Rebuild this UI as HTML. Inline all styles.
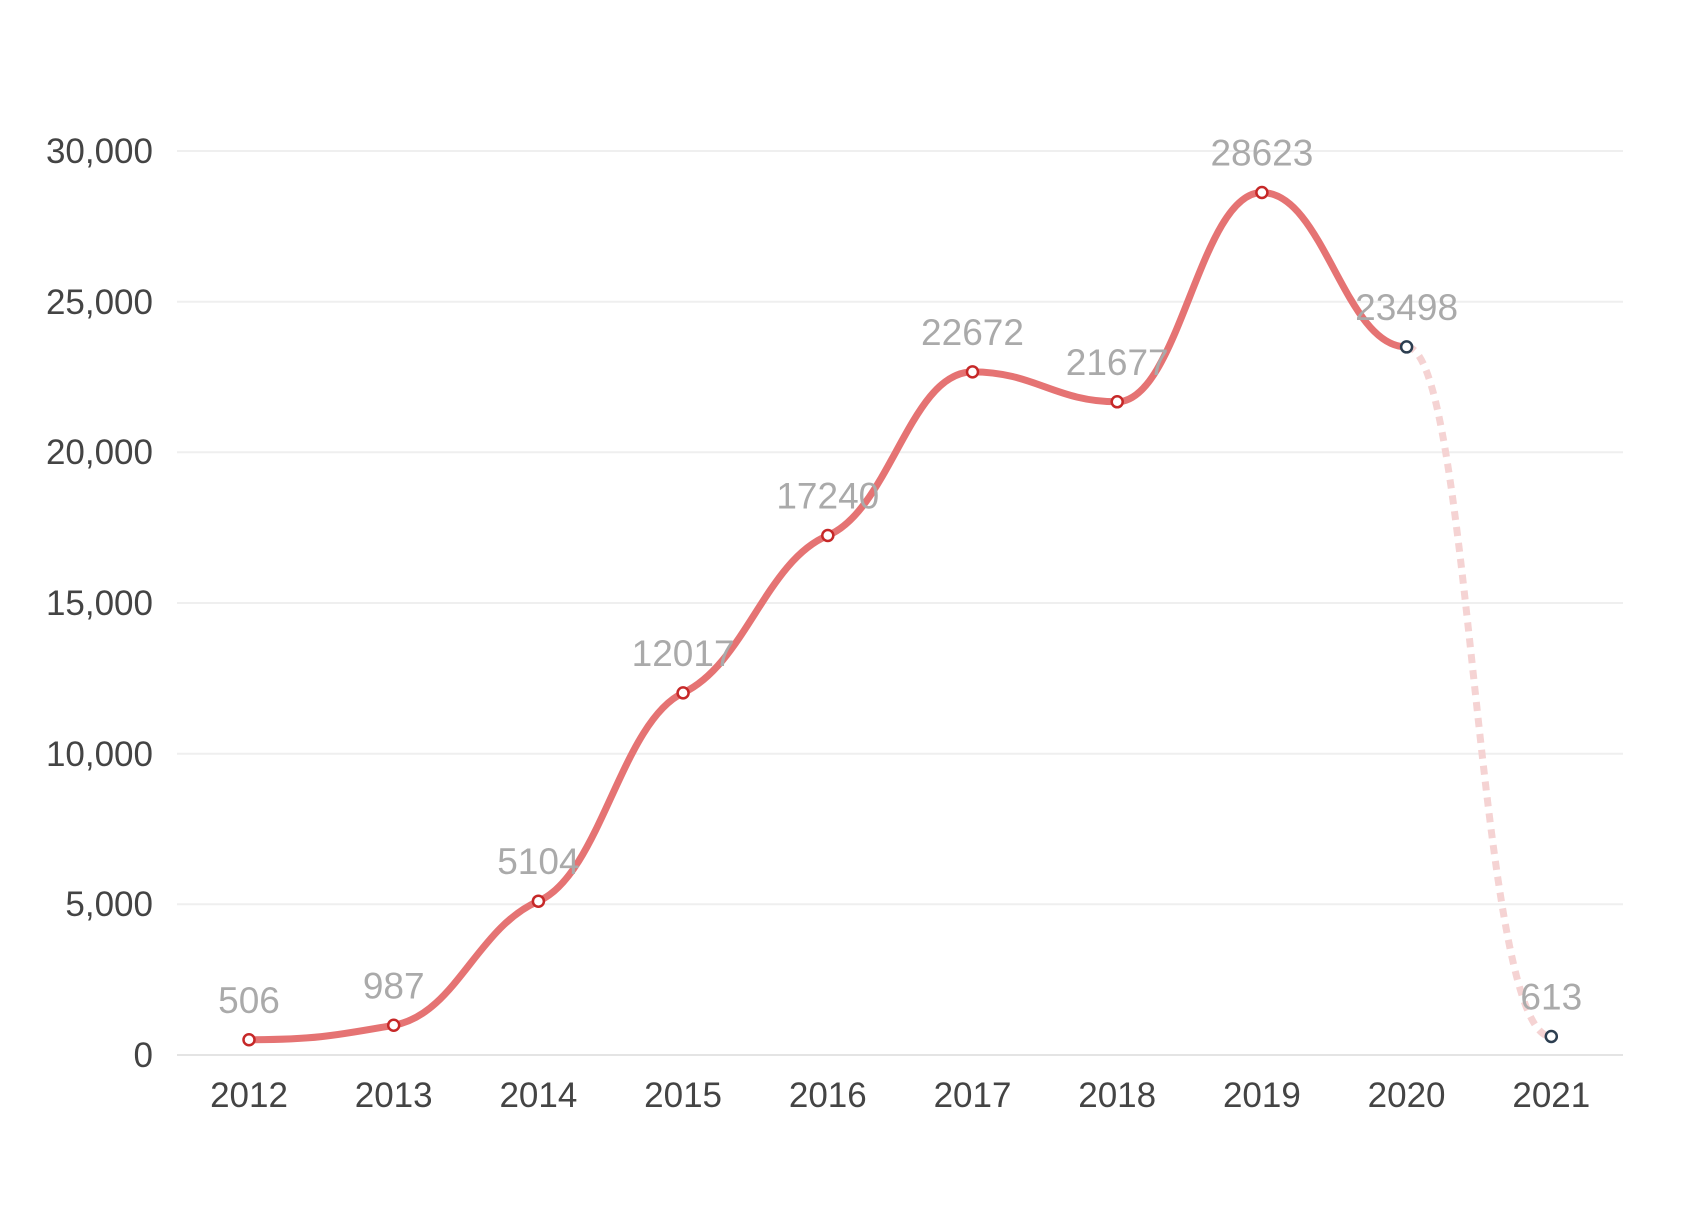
<!DOCTYPE html>
<html><head><meta charset="utf-8"><style>
html,body{margin:0;padding:0;background:#fff;}
svg{display:block;}
text{font-family:"Liberation Sans",sans-serif;}
</style></head><body>
<svg id="s" width="1694" height="1227" xmlns="http://www.w3.org/2000/svg">
<g stroke="#efefef" stroke-width="2">
<line x1="177" x2="1623" y1="151" y2="151"/>
<line x1="177" x2="1623" y1="301.7" y2="301.7"/>
<line x1="177" x2="1623" y1="452.3" y2="452.3"/>
<line x1="177" x2="1623" y1="603" y2="603"/>
<line x1="177" x2="1623" y1="753.7" y2="753.7"/>
<line x1="177" x2="1623" y1="904.3" y2="904.3"/>
<line x1="177" x2="1623" y1="1055" y2="1055" stroke="#e4e4e4"/>
</g>
<g fill="#444" font-size="35" text-anchor="end">
<text x="153" y="163">30,000</text>
<text x="153" y="314">25,000</text>
<text x="153" y="464">20,000</text>
<text x="153" y="615">15,000</text>
<text x="153" y="766">10,000</text>
<text x="153" y="916">5,000</text>
<text x="153" y="1067">0</text>
</g>
<g id="xl" fill="#444" font-size="35" text-anchor="middle"></g>
<path id="dash" fill="none" stroke="#f5d3d3" stroke-width="7" stroke-dasharray="9 7"/>
<path id="line" fill="none" stroke="#e57373" stroke-width="7" stroke-linecap="round"/>
<g id="mk"></g>
<g id="lb" fill="#aaa" font-size="37" text-anchor="middle"></g>
</svg>
<script>
var vals=[506,987,5104,12017,17240,22672,21677,28623,23498,613];
var ns="http://www.w3.org/2000/svg";
var P=vals.map(function(v,i){return [249+i*144.7,1055-v*0.030133];});
function el(t,a,p,txt){var e=document.createElementNS(ns,t);for(var k in a)e.setAttribute(k,a[k]);if(txt)e.textContent=txt;document.getElementById(p).appendChild(e);}
for(var i=0;i<10;i++){el('text',{x:P[i][0],y:1107},'xl',String(2012+i));el('text',{x:P[i][0],y:P[i][1]-27},'lb',String(vals[i]));}
var pts=P.slice(0,9),n=pts.length,t=[];
for(i=0;i<n;i++){
 var dy=0;
 if(i>0&&i<n-1){dy=(pts[i+1][1]-pts[i-1][1])*0.08;
  if((pts[i+1][1]-pts[i][1])*(pts[i][1]-pts[i-1][1])<=0)dy=0;}
 t.push(dy);
}
var o=62;
var d='M'+pts[0][0]+' '+pts[0][1];
for(i=0;i<n-1;i++){d+=' C'+(pts[i][0]+o)+' '+(pts[i][1]+t[i])+' '+(pts[i+1][0]-o)+' '+(pts[i+1][1]-t[i+1])+' '+pts[i+1][0]+' '+pts[i+1][1];}
document.getElementById('line').setAttribute('d',d);
var A=P[8],B=P[9];
document.getElementById('dash').setAttribute('d','M'+A[0]+' '+A[1]+' C'+(A[0]+65)+' '+A[1]+' '+(B[0]-75)+' '+B[1]+' '+B[0]+' '+B[1]);
for(i=0;i<10;i++){el('circle',{cx:P[i][0],cy:P[i][1],r:5.5,fill:'#fff',stroke:i>=8?'#2c3e50':'#c62828','stroke-width':2.5},'mk');}
</script>
</body></html>
